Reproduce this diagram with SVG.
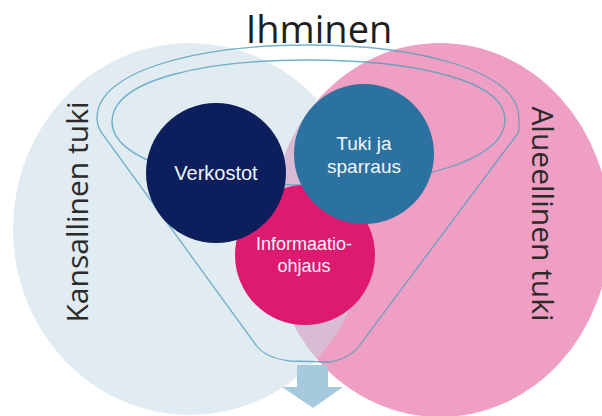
<svg xmlns="http://www.w3.org/2000/svg" width="602" height="416" viewBox="0 0 602 416">
  <style>
    text { font-family: "Open Sans", "Liberation Sans", sans-serif; }
    .side { font-size: 30px; fill: #2b2b2b; text-anchor: middle; }
    .title { font-size: 38px; fill: #1e1e1e; text-anchor: middle; }
    .inner { font-family: "Liberation Sans", Arial, sans-serif; font-size: 19px; fill: #f2f4f8; text-anchor: middle; }
    .funnel { fill: none; stroke: #4f9fbd; stroke-opacity: 0.8; stroke-width: 1.3; }
  </style>
  <rect width="602" height="416" fill="#ffffff"/>

  <g id="alueellinen-tuki">
    <ellipse cx="440" cy="230" rx="170" ry="187" fill="#ef9fc3"/>
  </g>
  <g id="kansallinen-tuki">
    <ellipse cx="190" cy="229" rx="177" ry="186" fill="#c3d7e5" fill-opacity="0.5"/>
    <text class="side" transform="translate(88,212) rotate(-90)">Kansallinen tuki</text>
  </g>
  <g id="alueellinen-label">
    <text class="side" transform="translate(532,214) rotate(90)">Alueellinen tuki</text>
  </g>

  <g id="connectors">
    <path class="funnel" d="M101,132 C98,127 97,122 97,118 C97,70 200,45 308,45 C416,45 519,70 519,118 L519,128 Q519,133 515,137 L362,342 Q352,358 330,362 L290,361 Q265,358 256,345 Z"/>
    <path class="funnel" d="M112,122 C112,78 210,60 308,60 C406,60 505,78 505,120 C505,160 420,185 308,185 C196,185 112,160 112,122 Z"/>
    <polygon points="297,365 328,365 328,387 343,387 313,408 282,387 297,387" fill="#a7c9dd"/>
  </g>

  <g id="informaatio-ohjaus">
    <circle cx="305" cy="255" r="70" fill="#dd1a6f"/>
    <text class="inner" style="font-size:18px"><tspan x="304" y="250">Informaatio-</tspan><tspan x="304" y="271.5">ohjaus</tspan></text>
  </g>
  <g id="verkostot">
    <circle cx="216" cy="173" r="70" fill="#0c1f5c"/>
    <text class="inner" style="font-size:20px" x="216" y="180">Verkostot</text>
  </g>
  <g id="tuki-ja-sparraus">
    <circle cx="364" cy="154" r="70" fill="#2c72a0"/>
    <text class="inner"><tspan x="364" y="149.5">Tuki ja</tspan><tspan x="364" y="172.5">sparraus</tspan></text>
  </g>

  <g id="ihminen">
    <text class="title" x="319" y="43">Ihminen</text>
  </g>
</svg>
